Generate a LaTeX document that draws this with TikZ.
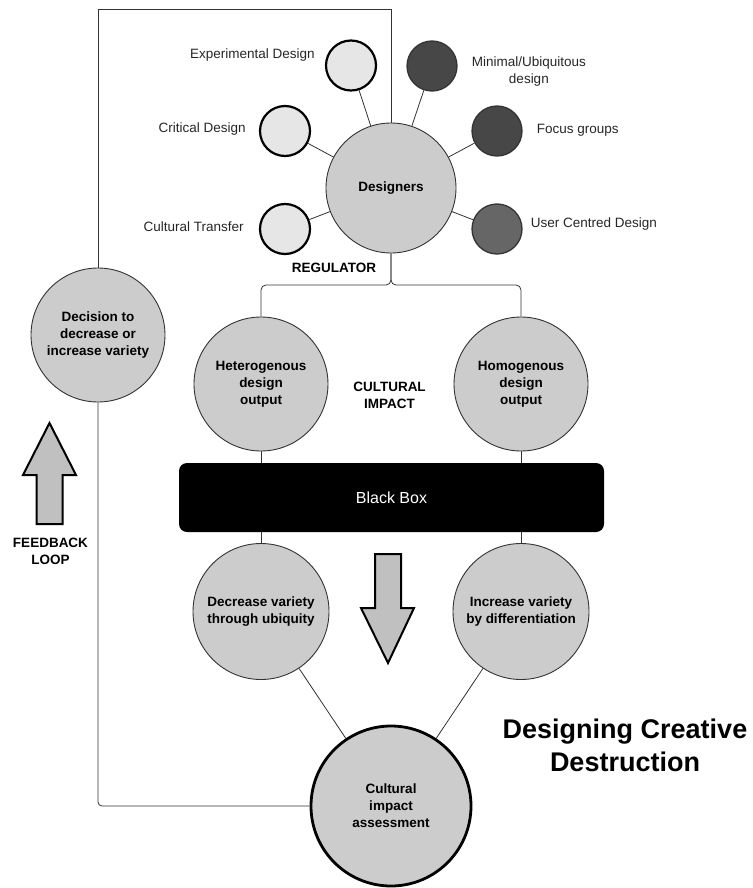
\documentclass[tikz,border=0pt]{standalone}
\usepackage{fontspec}
\setmainfont{Liberation Sans}
\usetikzlibrary{positioning}

\definecolor{nodegray}{HTML}{CCCCCC}
\definecolor{palegray}{HTML}{E6E6E6}
\definecolor{darkfill}{HTML}{474747}
\definecolor{midfill}{HTML}{666666}
\definecolor{edgegray}{HTML}{333333}
\definecolor{arrowgray}{HTML}{C0C0C0}

\begin{document}
\begin{tikzpicture}[
    x=1pt, y=-1pt,
    on grid,
    every node/.style={font=\fontsize{13.5}{17}\selectfont},
    blob/.style={circle, inner sep=0pt, fill=nodegray, draw=edgegray, line width=0.9pt, align=center, font=\fontsize{13.5}{17}\selectfont\bfseries},
    method/.style={circle, inner sep=0pt, minimum size=50pt, line width=2.2pt, draw=black, fill=palegray},
    market/.style={method, line width=1.3pt, draw=edgegray, fill=darkfill},
    lbl/.style={inner sep=0pt, align=center, text=black!85},
    tag/.style={inner sep=0pt, align=center, font=\fontsize{13.5}{17}\selectfont\bfseries},
    wire/.style={draw=edgegray, line width=0.8pt},
    bigarrow/.style={fill=arrowgray, draw=black, line width=2pt, line join=miter}
]
   \useasboundingbox (0,0) rectangle (752,888);

   % Regulator and design approaches
   \node[blob, minimum size=130pt] (designers) at (391,188) {Designers};
   \node[method, above left=122.5pt and 40pt of designers] (expdes) {};
   \node[market, above right=122pt and 41pt of designers] (minimal) {};
   \node[method, above left=57pt and 106pt of designers] (critical) {};
   \node[market, above right=57pt and 106pt of designers] (focus) {};
   \node[method, below left=41pt and 106pt of designers] (transfer) {};
   \node[market, fill=midfill, below right=41pt and 106pt of designers] (usercentred) {};

   \node[lbl, anchor=east] (expdes label) at ([xshift=-10pt, yshift=10pt]expdes.west) {Experimental Design};
   \node[lbl, anchor=east] (critical label) at ([xshift=-13pt, yshift=2pt]critical.west) {Critical Design};
   \node[lbl, anchor=east] (transfer label) at ([xshift=-15pt, yshift=2pt]transfer.west) {Cultural Transfer};
   \node[lbl, anchor=west] (minimal label) at ([xshift=14pt, yshift=-6pt]minimal.east) {Minimal/Ubiquitous\\design};
   \node[lbl, anchor=west] (focus label) at ([xshift=14pt, yshift=1pt]focus.east) {Focus groups};
   \node[lbl, anchor=west] (usercentred label) at ([xshift=8pt, yshift=5pt]usercentred.east) {User Centred Design};

   \foreach \n in {expdes, minimal, critical, focus, transfer, usercentred}
      \draw[wire] (\n) -- (designers);

   \node[tag] (regulator) at (334,268) {REGULATOR};

   % Design output
   \node[blob, minimum size=134pt, below left=196pt and 130pt of designers] (hetero) {Heterogenous\\design\\output};
   \node[blob, minimum size=134pt, right=260pt of hetero] (homo) {Homogenous\\design\\output};
   \node[tag] (impact) at (389.5,395) {CULTURAL\\IMPACT};

   \coordinate (split) at (391,285);
   \draw[wire, rounded corners=5pt] (hetero.north) |- (split) -- (designers.south);
   \draw[wire, rounded corners=5pt] (homo.north) |- (split) -- (designers.south);

   % Black box
   \node[fill=black, rounded corners=8pt, minimum width=425pt, minimum height=69pt,
         text=white, font=\fontsize{16}{19}\selectfont] (blackbox) at (391.5,497.5) {Black Box};
   \draw[wire] (hetero.south) -- (hetero.south |- blackbox.north);
   \draw[wire] (homo.south) -- (homo.south |- blackbox.north);

   % Variety
   \node[blob, minimum size=136pt, below=227.5pt of hetero] (decrease) {Decrease variety\\through ubiquity};
   \node[blob, minimum size=136pt, right=260pt of decrease] (increase) {Increase variety\\by differentiation};
   \draw[wire] (blackbox.south -| decrease.north) -- (decrease.north);
   \draw[wire] (blackbox.south -| increase.north) -- (increase.north);

   \node[blob, minimum size=160pt, line width=2.8pt, draw=black,
         below right=194.5pt and 130pt of decrease] (assessment) {Cultural\\impact\\assessment};
   \draw[wire] (decrease) -- (assessment);
   \draw[wire] (increase) -- (assessment);

   % Feedback loop
   \node[blob, minimum size=134pt] (decision) at (98,335) {Decision to\\decrease or\\increase variety};
   \coordinate (loop corner) at (391,9);
   \draw[wire, rounded corners=4pt] (assessment.west) -| (decision.south);
   \draw[wire] (decision.north) |- (loop corner) -- (designers.north);

   \draw[bigarrow] (36.5,524) -- (36.5,475) -- (23,475) -- (49.5,423) -- (76,475) -- (62.5,475) -- (62.5,524) -- cycle;
   \node[tag] (feedback) at (50.5,551) {FEEDBACK\\LOOP};
   \draw[bigarrow] (375,554) -- (401,554) -- (401,608) -- (414,608) -- (388,663) -- (361,608) -- (375,608) -- cycle;

   % Title
   \node[inner sep=0pt, align=center, font=\fontsize{27}{33}\selectfont\bfseries] (title) at (625,745.5) {Designing Creative\\Destruction};
\end{tikzpicture}
\end{document}
